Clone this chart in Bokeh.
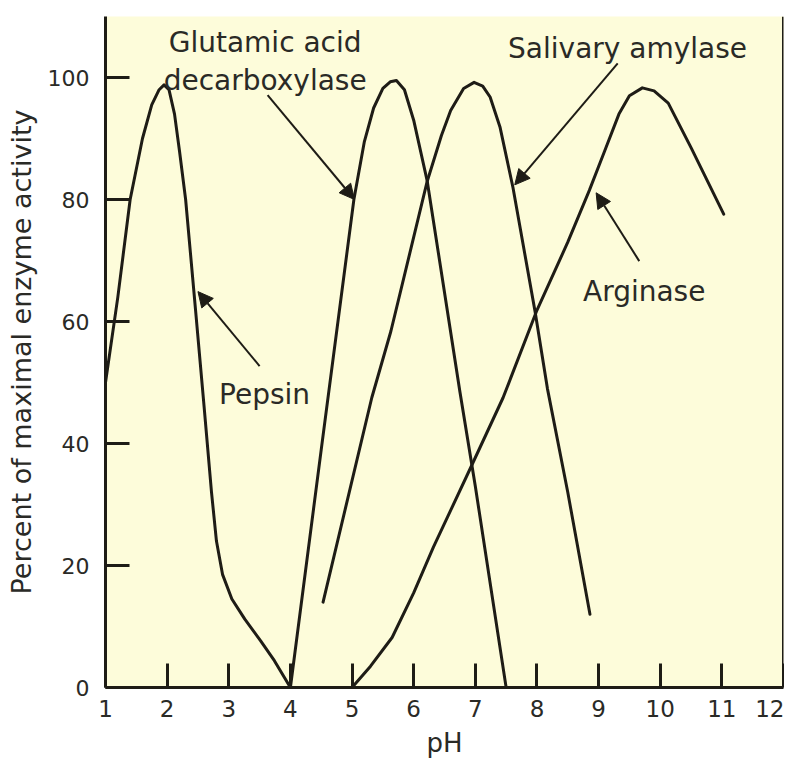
from bokeh.plotting import figure
from bokeh.models import Arrow, NormalHead, Span, FixedTicker, Label, Range1d
from bokeh.embed import file_html
from bokeh.resources import INLINE

# ---- data ----
ph_ticks = [1, 2, 3, 4, 5, 6, 7, 8, 9, 10, 11, 12]
activity_ticks = [0, 20, 40, 60, 80, 100]

pepsin_ph = [1.0, 1.2, 1.40, 1.6, 1.75, 1.87, 1.95, 2.03, 2.12, 2.2, 2.30, 2.46,
             2.6, 2.72, 2.8, 2.9, 3.05, 3.26, 3.52, 3.74, 4.0]
pepsin_act = [50, 64, 80, 90, 95.5, 98, 98.8, 98, 94, 88, 80, 62,
              46, 32, 24, 18.5, 14.5, 11.2, 7.6, 4.4, 0]

glutamic_ph = [4.0, 4.5, 5.03, 5.2, 5.35, 5.5, 5.62, 5.72, 5.85, 6.0, 6.22, 6.75, 7.0, 7.5]
glutamic_act = [0, 39, 80, 89.5, 95, 98.2, 99.3, 99.5, 98, 93, 83, 48.5, 33, 0]

amylase_ph = [4.53, 5.32, 5.63, 6.22, 6.45, 6.6, 6.81, 6.98, 7.12, 7.24, 7.4, 7.61,
              7.97, 8.17, 8.5, 8.86]
amylase_act = [14, 47.5, 58.4, 83, 90.5, 94.6, 98.2, 99.2, 98.6, 96.8, 91.9, 82,
               61.6, 49, 32, 12]

arginase_ph = [5.0, 5.3, 5.65, 6.0, 6.32, 6.95, 7.45, 7.99, 8.5, 8.85, 9.1, 9.33,
               9.5, 9.71, 9.9, 10.13, 10.5, 11.03]
arginase_act = [0, 3.5, 8.2, 15.5, 23, 36.6, 47.5, 61.6, 73, 81.5, 88, 94,
                97, 98.3, 97.8, 95.8, 88.5, 77.6]

INK = "#1e1c16"
TXT = "#2a2a26"
FONT = "DejaVu Sans"

p = figure(width=784, height=765, x_range=Range1d(1, 12), y_range=Range1d(0, 110),
           output_backend="svg", toolbar_location=None,
           min_border_left=105, min_border_right=1, min_border_top=16, min_border_bottom=78)
p.background_fill_color = "#FDFCDA"
p.border_fill_color = "white"
p.outline_line_color = None
p.grid.visible = False

for ax in (p.xaxis[0], p.yaxis[0]):
    ax.axis_line_color = INK
    ax.axis_line_width = 3
    ax.major_tick_line_color = INK
    ax.major_tick_line_width = 3
    ax.major_tick_in = 24
    ax.major_tick_out = 0
    ax.minor_tick_line_color = None
    ax.major_label_text_color = TXT
    ax.major_label_text_font = FONT
    ax.axis_label_text_color = TXT
    ax.axis_label_text_font = FONT
    ax.axis_label_text_font_style = "normal"

p.xaxis.ticker = FixedTicker(ticks=ph_ticks)
p.yaxis.ticker = FixedTicker(ticks=activity_ticks)
p.xaxis.major_label_text_font_size = "23px"
p.yaxis.major_label_text_font_size = "22px"
p.xaxis.major_label_standoff = 12
p.yaxis.major_label_standoff = 16
p.xaxis.axis_label = "pH"
p.yaxis.axis_label = "Percent of maximal enzyme activity"
p.xaxis.axis_label_text_font_size = "26px"
p.yaxis.axis_label_text_font_size = "27px"
p.xaxis.axis_label_standoff = 8
p.yaxis.axis_label_standoff = 8

# right frame line
p.add_layout(Span(location=12, dimension="height", line_color=INK, line_width=3))

for xs, ys in ((pepsin_ph, pepsin_act), (glutamic_ph, glutamic_act),
               (amylase_ph, amylase_act), (arginase_ph, arginase_act)):
    p.line(xs, ys, line_color=INK, line_width=3, line_join="round", line_cap="round")

# arrows
arrows = [
    (3.63, 97.1, 5.04, 80.0),
    (9.31, 102.3, 7.64, 82.4),
    (3.50, 52.7, 2.50, 64.9),
    (9.66, 69.9, 8.96, 81.1),
]
for xs, ys, xe, ye in arrows:
    p.add_layout(Arrow(end=NormalHead(size=15, fill_color=INK, line_color=INK, line_width=1),
                       x_start=xs, y_start=ys, x_end=xe, y_end=ye,
                       line_color=INK, line_width=2))

labels = [
    ("Glutamic acid", 3.59, 105.7),
    ("decarboxylase", 3.59, 99.5),
    ("Salivary amylase", 9.47, 104.7),
    ("Pepsin", 3.58, 48.0),
    ("Arginase", 9.74, 65.0),
]
for txt, lx, ly in labels:
    p.add_layout(Label(x=lx, y=ly, text=txt, text_align="center", text_baseline="alphabetic",
                       text_font=FONT, text_font_size="28px", text_color=TXT))

open("out.html", "w").write(file_html(p, INLINE))
